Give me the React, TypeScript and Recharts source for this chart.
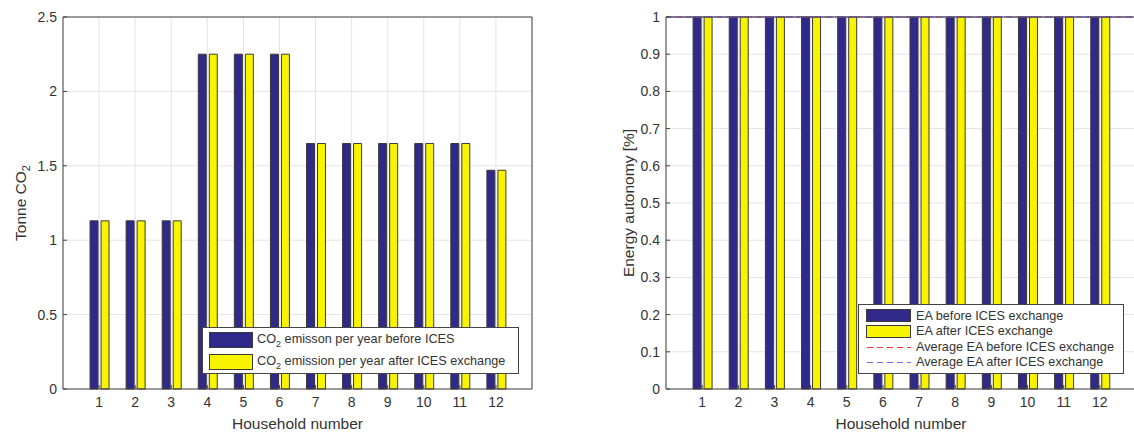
import React from 'react';
import { BarChart, Bar, XAxis, YAxis, CartesianGrid, ReferenceLine, Label } from 'recharts';

const households = ['1', '2', '3', '4', '5', '6', '7', '8', '9', '10', '11', '12'];
const co2Before = [1.13, 1.13, 1.13, 2.25, 2.25, 2.25, 1.65, 1.65, 1.65, 1.65, 1.65, 1.47];
const co2After = [1.13, 1.13, 1.13, 2.25, 2.25, 2.25, 1.65, 1.65, 1.65, 1.65, 1.65, 1.47];
const eaBefore = [1, 1, 1, 1, 1, 1, 1, 1, 1, 1, 1, 1];
const eaAfter = [1, 1, 1, 1, 1, 1, 1, 1, 1, 1, 1, 1];
const co2Ticks = [0, 0.5, 1, 1.5, 2, 2.5];
const eaTicks = [0, 0.1, 0.2, 0.3, 0.4, 0.5, 0.6, 0.7, 0.8, 0.9, 1];
const co2LegendTexts = [' emisson per year before ICES', ' emission per year after ICES exchange'];
const eaLegendTexts = [
  'EA before ICES exchange',
  'EA after ICES exchange',
  'Average EA before ICES exchange',
  'Average EA after ICES exchange',
];

const FONT = '"Liberation Sans", Arial, Helvetica, sans-serif';
const TXT = '#333333';
const BLUE = '#30298a';
const YELLOW = '#f8f400';
const EDGE = '#3a3a3a';
const AXIS = '#444444';
const GRID = '#e4e4e4';
const RED_LINE = '#ff3030';
const BLUE_LINE = '#6b6bff';

const co2Data = households.map((h, i) => ({ name: h, before: co2Before[i], after: co2After[i] }));
const eaData = households.map((h, i) => ({ name: h, before: eaBefore[i], after: eaAfter[i] }));
const avgBefore = eaBefore.reduce((a, b) => a + b, 0) / eaBefore.length;
const avgAfter = eaAfter.reduce((a, b) => a + b, 0) / eaAfter.length;

const XTitle = (props: any) => {
  const vb = props.viewBox;
  const cx = vb.x + vb.width / 2;
  return (
    <text x={cx} y={vb.y + 40} textAnchor="middle" fontSize={15.5} fill={TXT} fontFamily={FONT}>
      Household number
    </text>
  );
};

const makeYTitle = (offsetX: number, kind: 'co2' | 'ea') => (props: any) => {
  const vb = props.viewBox;
  const cx = vb.x + offsetX;
  const cy = vb.y + vb.height / 2;
  return (
    <text
      x={cx}
      y={cy}
      transform={`rotate(-90 ${cx} ${cy})`}
      textAnchor="middle"
      fontSize={15.5}
      fill={TXT}
      fontFamily={FONT}
    >
      {kind === 'co2' ? (
        <>
          Tonne CO<tspan dy={4} fontSize={11}>2</tspan>
        </>
      ) : (
        'Energy autonomy [%]'
      )}
    </text>
  );
};

const tickStyle = { fill: TXT, fontSize: 14, fontFamily: FONT };

function Panel(props: {
  data: any[];
  ticks: number[];
  domain: [number, number];
  yAxisWidth: number;
  marginRight: number;
  yTitleX: number;
  kind: 'co2' | 'ea';
  pad: number;
}) {
  const { data, ticks, domain, yAxisWidth, marginRight, yTitleX, kind, pad } = props;
  return (
    <BarChart
      width={545}
      height={435}
      data={data}
      margin={{ top: 17, right: marginRight, bottom: 0, left: 0 }}
      barSize={8}
      barGap={3}
    >
      <CartesianGrid stroke={GRID} />
      <XAxis
        dataKey="name"
        height={46}
        padding={{ left: pad, right: pad }}
        interval={0}
        axisLine={{ stroke: AXIS }}
        tickLine={{ stroke: AXIS }}
        tickSize={-4}
        tickMargin={12}
        tick={tickStyle}
      >
        <Label content={XTitle} />
      </XAxis>
      <XAxis
        xAxisId="top"
        orientation="top"
        dataKey="name"
        mirror
        padding={{ left: pad, right: pad }}
        interval={0}
        axisLine={{ stroke: AXIS }}
        tickLine={{ stroke: AXIS }}
        tickSize={4}
        tick={false}
      />
      <YAxis
        width={yAxisWidth}
        domain={domain}
        ticks={ticks}
        interval={0}
        axisLine={{ stroke: AXIS }}
        tickLine={{ stroke: AXIS }}
        tickSize={-4}
        tickMargin={10}
        tick={tickStyle}
      >
        <Label content={makeYTitle(yTitleX, kind)} />
      </YAxis>
      <YAxis
        yAxisId="right"
        orientation="right"
        mirror
        domain={domain}
        ticks={ticks}
        interval={0}
        axisLine={{ stroke: AXIS }}
        tickLine={{ stroke: AXIS }}
        tickSize={4}
        tick={false}
      />
      <Bar dataKey="before" fill={BLUE} stroke={EDGE} strokeWidth={1} isAnimationActive={false} />
      <Bar dataKey="after" fill={YELLOW} stroke={EDGE} strokeWidth={1} isAnimationActive={false} />
      {kind === 'ea' && (
        <ReferenceLine y={avgBefore} stroke={RED_LINE} strokeDasharray="6 4" strokeWidth={1} />
      )}
      {kind === 'ea' && (
        <ReferenceLine y={avgAfter} stroke={BLUE_LINE} strokeDasharray="12 1" strokeWidth={1.2} />
      )}
    </BarChart>
  );
}

function Co2Legend() {
  return (
    <svg width={320} height={50} style={{ position: 'absolute', left: 201, top: 326 }}>
      <rect x={1.5} y={1.5} width={316} height={46} fill="#fff" stroke={AXIS} strokeWidth={1} />
      <rect x={8.5} y={6.5} width={43} height={15} fill={BLUE} stroke={EDGE} />
      <rect x={8.5} y={28.5} width={43} height={15} fill={YELLOW} stroke={EDGE} />
      {co2LegendTexts.map((t, i) => (
        <text key={i} x={56} y={17 + i * 22} fontSize={12.7} fill={TXT} fontFamily={FONT}>
          CO<tspan dy={4} fontSize={9}>2</tspan>
          <tspan dy={-4}>{t}</tspan>
        </text>
      ))}
    </svg>
  );
}

function EaLegend() {
  return (
    <svg width={270} height={75} style={{ position: 'absolute', left: 857, top: 303 }}>
      <rect x={1.5} y={1.5} width={265} height={69} fill="#fff" stroke={AXIS} strokeWidth={1} />
      <rect x={9.5} y={6.5} width={44} height={12} fill={BLUE} stroke={EDGE} />
      <rect x={9.5} y={22.5} width={44} height={12} fill={YELLOW} stroke={EDGE} />
      <line x1={10} x2={54} y1={44.5} y2={44.5} stroke={RED_LINE} strokeWidth={1.2} strokeDasharray="6 4" />
      <line x1={10} x2={54} y1={59.5} y2={59.5} stroke={BLUE_LINE} strokeWidth={1.2} strokeDasharray="6 4" />
      {eaLegendTexts.map((t, i) => (
        <text key={i} x={59} y={16.5 + i * 15.6} fontSize={12.7} fill={TXT} fontFamily={FONT}>
          {t}
        </text>
      ))}
    </svg>
  );
}

export default function App() {
  return (
    <div
      style={{
        position: 'fixed',
        left: 0,
        top: 0,
        width: 1134,
        height: 435,
        overflow: 'hidden',
        background: '#fff',
        fontFamily: FONT,
      }}
    >
      <div style={{ position: 'absolute', left: 0, top: 0 }}>
        <Panel
          data={co2Data}
          ticks={co2Ticks}
          domain={[0, 2.5]}
          yAxisWidth={63}
          marginRight={13}
          yTitleX={25.5}
          kind="co2"
          pad={18.04}
        />
      </div>
      <div style={{ position: 'absolute', left: 600, top: 0 }}>
        <Panel
          data={eaData}
          ticks={eaTicks}
          domain={[0, 1]}
          yAxisWidth={66}
          marginRight={9}
          yTitleX={34}
          kind="ea"
          pad={18.08}
        />
      </div>
      <Co2Legend />
      <EaLegend />
    </div>
  );
}
